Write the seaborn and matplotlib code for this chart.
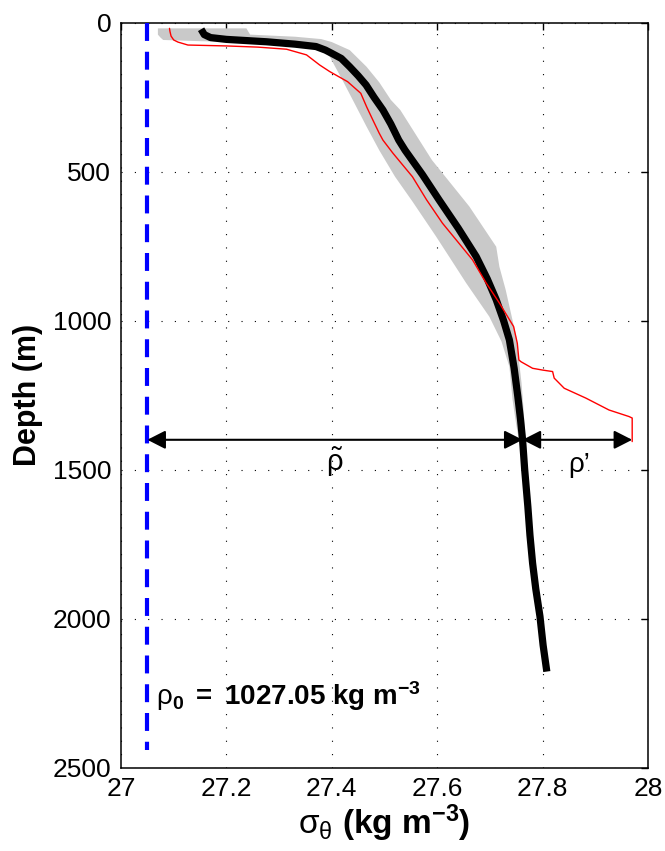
import numpy as np
import matplotlib
matplotlib.use("Agg")
import matplotlib.pyplot as plt
import seaborn as sns

# ---------------- data ----------------
# mean profile (thick black)
mean_depth = [22, 40, 50, 56, 64, 72, 80, 92, 103, 120, 148, 178, 209, 250, 293, 340, 394,
              428, 510, 596, 690, 785, 860, 930, 1000, 1065, 1160, 1255, 1330, 1400, 1500,
              1624, 1720, 1814, 1900, 1993, 2090, 2178]
mean_sigma = [27.152, 27.158, 27.17, 27.20, 27.276, 27.33, 27.37, 27.388, 27.40, 27.418, 27.434,
              27.45, 27.465, 27.48, 27.497, 27.512, 27.527, 27.539, 27.572, 27.604, 27.64,
              27.674, 27.695, 27.712, 27.726, 27.737, 27.746, 27.753, 27.758, 27.762, 27.766,
              27.772, 27.776, 27.781, 27.787, 27.795, 27.801, 27.808]

# single profile (thin red)
red_depth = [19, 30, 45, 58, 65, 75, 78, 82, 89, 108, 142, 164, 198, 237, 282, 327, 371, 394,
             438, 517, 595, 673, 729, 796, 874, 941, 1020, 1076, 1132, 1138, 1160, 1166, 1171,
             1193, 1227, 1260, 1300, 1322, 1327, 1406]
red_sigma = [27.092, 27.093, 27.095, 27.100, 27.108, 27.127, 27.20, 27.26, 27.314, 27.352,
             27.377, 27.396, 27.430, 27.455, 27.466, 27.478, 27.490, 27.497, 27.516, 27.553,
             27.580, 27.610, 27.636, 27.667, 27.693, 27.718, 27.745, 27.752, 27.755, 27.759,
             27.781, 27.800, 27.819, 27.822, 27.841, 27.882, 27.926, 27.964, 27.970, 27.970]

# envelope (grey band): left and right edges
band_lo_depth = [19, 40, 50, 58, 62, 68, 75, 114, 192, 260, 349, 428, 517, 600, 718, 800, 874,
                 987, 1070, 1155, 1266, 1350, 1420]
band_lo_sigma = [27.070, 27.070, 27.075, 27.080, 27.150, 27.300, 27.370, 27.396, 27.420,
                 27.440, 27.466, 27.490, 27.520, 27.553, 27.598, 27.628, 27.655, 27.699,
                 27.722, 27.737, 27.743, 27.750, 27.757]
band_hi_depth = [19, 40, 47, 55, 65, 92, 148, 200, 259, 293, 461, 617, 752, 819, 897, 1054,
                 1209, 1300, 1420]
band_hi_sigma = [27.238, 27.245, 27.330, 27.380, 27.400, 27.434, 27.466, 27.490, 27.512,
                 27.530, 27.590, 27.661, 27.712, 27.718, 27.730, 27.750, 27.760, 27.764, 27.768]

rho0_sigma = 27.05
rho0_depth_end = 2440
arrow_depth = 1400
arrow_mid_sigma = 27.762
arrow_end_sigma = 27.970

x_ticks = [27, 27.2, 27.4, 27.6, 27.8, 28]
x_tick_labels = ["27", "27.2", "27.4", "27.6", "27.8", "28"]
y_ticks = [0, 500, 1000, 1500, 2000, 2500]
y_tick_labels = ["0", "500", "1000", "1500", "2000", "2500"]

# ---------------- style ----------------
sns.set_theme(style="white")
plt.rcParams["font.family"] = ["Liberation Sans", "DejaVu Sans"]
plt.rcParams["text.color"] = "black"
plt.rcParams["axes.labelcolor"] = "black"
plt.rcParams["mathtext.fontset"] = "custom"
plt.rcParams["mathtext.rm"] = "Liberation Sans"
plt.rcParams["mathtext.it"] = "Liberation Sans:italic"
plt.rcParams["mathtext.bf"] = "Liberation Sans:bold"

fig = plt.figure(figsize=(6.65, 8.51), dpi=100)
ax = fig.add_axes([121 / 665, 1 - 767.5 / 851, 527 / 665, 744.8 / 851])

# grey envelope
ax.fill(np.concatenate([band_lo_sigma, band_hi_sigma[::-1]]),
        np.concatenate([band_lo_depth, band_hi_depth[::-1]]),
        color="#c9c9c9", lw=0, zorder=1)

# mean profile
sns.lineplot(x=mean_sigma, y=mean_depth, sort=False, estimator=None, color="black",
             lw=5.2, ax=ax, zorder=3, solid_capstyle="butt")
# single profile
sns.lineplot(x=red_sigma, y=red_depth, sort=False, estimator=None, color="red",
             lw=1.0, ax=ax, zorder=4)

# rho0 reference line
ax.vlines(rho0_sigma, 0, rho0_depth_end, colors="#0000ff", lw=3.0,
          linestyles=[(0, (4.3, 2.6))], zorder=5)

# arrows
arrow_kw = dict(arrowstyle="<|-|>,head_length=0.55,head_width=0.28", mutation_scale=20,
                color="black", lw=1.5, shrinkA=0, shrinkB=0)
ax.annotate("", xy=(rho0_sigma, arrow_depth), xytext=(arrow_mid_sigma, arrow_depth),
            arrowprops=arrow_kw, zorder=6)
ax.annotate("", xy=(arrow_mid_sigma, arrow_depth), xytext=(arrow_end_sigma, arrow_depth),
            arrowprops=arrow_kw, zorder=6)

ax.text(27.405, 1476, r"$\mathrm{\tilde{\rho}}$", fontsize=21, ha="center", va="center")
ax.text(27.87, 1484, "ρ’", fontsize=20, ha="center", va="center")
ax.text(27.066, 2262, r"$\mathrm{\rho}_{\mathbf{0}}\ \mathbf{{=}\ 1027.05\ kg\ m^{-3}}$",
        fontsize=20, ha="left", va="center")

# axes
ax.set_xlim(27, 28)
ax.set_ylim(2500, 0)
ax.set_xticks(x_ticks)
ax.set_xticklabels(x_tick_labels)
ax.set_yticks(y_ticks)
ax.set_yticklabels(y_tick_labels)
ax.tick_params(direction="in", length=5, width=1, top=True, right=True,
               labelsize=19, colors="black", pad=7)
ax.grid(True, color="black", linestyle=(0, (1, 11)), lw=0.8)
for s in ax.spines.values():
    s.set_color("black")
    s.set_linewidth(1.1)
    s.set_visible(True)

ax.set_xlabel(r"$\mathrm{\sigma_{\theta}}\ \mathbf{(kg\ m^{-3})}$", fontsize=24)
ax.xaxis.set_label_coords(0.5, -0.075)
ax.xaxis.label.set_va("center")
ax.set_ylabel("Depth (m)", fontsize=22, fontweight="bold")
ax.yaxis.set_label_coords(-0.176, 0.5)
ax.yaxis.label.set_va("center")

fig.savefig("out.png", dpi=100)
